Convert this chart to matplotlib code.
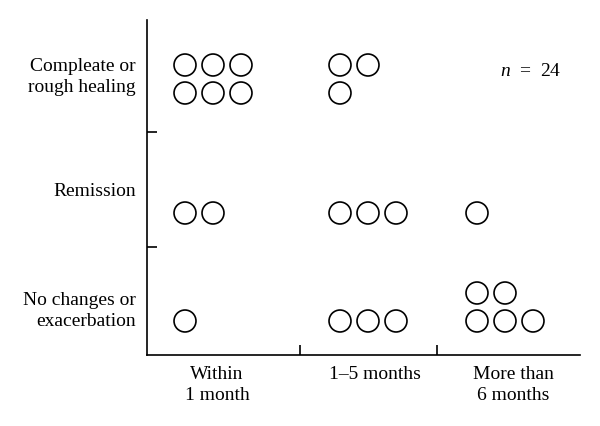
import matplotlib.pyplot as plt

plt.rcParams['font.family'] = ['Liberation Serif', 'DejaVu Serif']
plt.rcParams['mathtext.fontset'] = 'custom'
plt.rcParams['mathtext.it'] = 'Liberation Serif:italic'
plt.rcParams['mathtext.rm'] = 'Liberation Serif'

# outcome rows and time-to-response columns (counts of patients)
outcomes = ["Compleate or\nrough healing", "Remission", "No changes or\nexacerbation"]
periods = ["Within\n1 month", "1\u20135 months", "More than\n6 months"]
counts = [
    [6, 3, 0],   # healing
    [2, 3, 1],   # remission
    [1, 3, 5],   # no changes
]
n_total = 24

# layout (pixel-like data coordinates)
col_start = [185, 340, 477]      # x of first circle in each column
row_anchor = [65, 213, 321]      # y of first row of circles
row_dir = [1, 1, -1]             # healing stacks downward, no changes upward
max_per_row = [[3, 2, 3], [3, 3, 3], [3, 3, 3]]
step = 28

fig = plt.figure(figsize=(6, 4.26), dpi=100)
ax = fig.add_axes([147 / 600, 71 / 426, 433 / 600, 335 / 426])
ax.set_xlim(147, 580)
ax.set_ylim(355, 20)

for i in range(len(outcomes)):
    for j in range(len(periods)):
        if counts[i][j] == 0:
            continue
        m = max_per_row[i][j]
        xs, ys = [], []
        for k in range(counts[i][j]):
            xs.append(col_start[j] + (k % m) * step)
            ys.append(row_anchor[i] + row_dir[i] * (k // m) * step)
        ax.scatter(xs, ys, s=250, facecolors="none", edgecolors="black",
                   linewidths=1.2, clip_on=False)

ax.text(500, 72, "$n$  =  %d" % n_total, fontsize=14, va="center", ha="left")

for s in ["top", "right"]:
    ax.spines[s].set_visible(False)
for s in ["left", "bottom"]:
    ax.spines[s].set_linewidth(1.2)

# divider ticks
ax.set_xticks([300, 437])
ax.set_yticks([132, 247])
ax.set_xticklabels([])
ax.set_yticklabels([])
ax.tick_params(axis="both", which="major", direction="in", length=7, width=1.2)

# category labels as minor ticks
ax.set_xticks([217, 375, 513], minor=True)
ax.set_xticklabels(periods, minor=True, fontsize=14, linespacing=1.3)
ax.set_yticks([73, 189, 307], minor=True)
ax.set_yticklabels(outcomes, minor=True, fontsize=14, linespacing=1.3, ha="right")
ax.tick_params(axis="x", which="minor", length=0, pad=8)
ax.tick_params(axis="y", which="minor", length=0, pad=8)

fig.savefig("out.png", dpi=100)
